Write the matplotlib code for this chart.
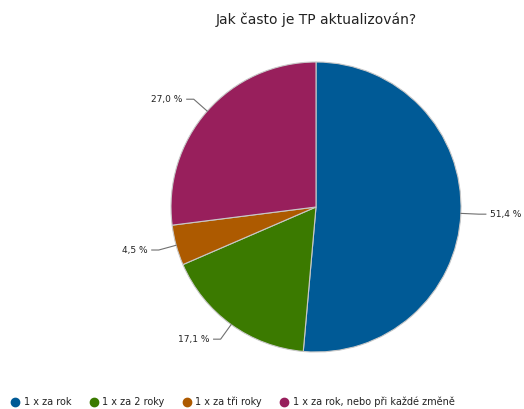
import numpy as np
import matplotlib.pyplot as plt

title = "Jak často je TP aktualizován?"
categories = ["1 x za rok", "1 x za 2 roky", "1 x za tři roky", "1 x za rok, nebo při každé změně"]
shares = [51.4, 17.1, 4.5, 27.0]
colors = ["#005a96", "#3b7a00", "#ad5a00", "#981f5c"]

W, H = 524, 409
fig = plt.figure(figsize=(W / 100, H / 100), dpi=100)
ax = fig.add_axes([0, 0, 1, 1])

cx, cy, r = 316, H - 207, 145
wedges, _ = ax.pie(shares, colors=colors, startangle=90, counterclock=False,
                   center=(cx, cy), radius=r, frame=True,
                   wedgeprops=dict(edgecolor="#c8c8c8", linewidth=0.8))
ax.set_xlim(0, W)
ax.set_ylim(0, H)
ax.set_aspect("equal")
ax.axis("off")

# percentage labels with bent leader lines
for w, v in zip(wedges, shares):
    mid = np.deg2rad((w.theta1 + w.theta2) / 2)
    d = np.array([np.cos(mid), np.sin(mid)])
    p0 = np.array([cx, cy]) + r * d
    p1 = np.array([cx, cy]) + (r + 18) * d
    sgn = 1 if d[0] >= 0 else -1
    p2 = p1 + np.array([sgn * 7, 0])
    ax.plot([p0[0], p1[0], p2[0]], [p0[1], p1[1], p2[1]], color="#707070", lw=0.8)
    label = f"{v:.1f} %".replace(".", ",")
    ax.text(p2[0] + sgn * 4, p2[1], label, ha="left" if sgn > 0 else "right",
            va="center", fontsize=6.5, color="#222222")

fig.text(316 / W, 1 - 20 / H, title, ha="center", va="center", fontsize=10, color="#222222")

# legend row along the bottom edge
renderer = fig.canvas.get_renderer()
x = 15
ly = H - 402
for c, name in zip(colors, categories):
    ax.plot([x], [ly], marker="o", markersize=6, color=c, linestyle="none")
    t = ax.text(x + 8.5, ly, name, ha="left", va="center", fontsize=7, color="#222222")
    bb = t.get_window_extent(renderer)
    x = bb.x1 + 22.5

fig.savefig("out.png", dpi=100)
